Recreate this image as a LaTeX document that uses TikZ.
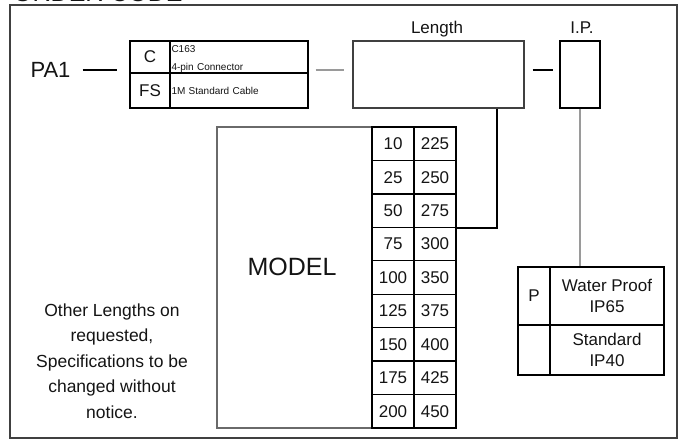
\documentclass[tikz,border=0pt]{standalone}
\usepackage{fontspec}
\setmainfont{Liberation Sans}
\usetikzlibrary{positioning}

\definecolor{framegray}{HTML}{404040}
\definecolor{linegray}{HTML}{9A9A9A}
\definecolor{modelgray}{HTML}{6A6A6A}
\definecolor{ink}{HTML}{141414}

\begin{document}
\begin{tikzpicture}[x=1pt,y=-1pt,
  txt/.style={font=\fontsize{17}{21}\selectfont,text=ink,inner sep=0pt},
  big/.style={txt,font=\fontsize{25}{30}\selectfont},
  box/.style={draw,line width=1.4pt,inner sep=0pt,txt},
  small/.style={font=\fontsize{10}{18}\selectfont,text=ink,inner sep=0pt}]
\useasboundingbox (0,0) rectangle (678,439);
\clip (0,0) rectangle (678,439);
% heading, cut off by the top edge
\node[big,anchor=base west] (title) at (13,1.5) {ORDER CODE};
\draw[framegray,line width=1.6pt] (10,5) rectangle (677,438);

% connector and cable
\node[txt,font=\fontsize{22}{26}\selectfont] (pa1) at (50.5,70) {PA1};
\node[box,minimum width=40pt,minimum height=32pt] (c) at (150,57) {C};
\node[box,small,draw,line width=1.4pt,minimum width=138pt,minimum height=32pt,
  text width=135pt,align=left] (cdesc) at (239,57) {\rule{0pt}{12pt}C163\\4-pin Connector};
\node[box,minimum width=40pt,minimum height=35pt] (fs) at (150,90.5) {FS};
\node[box,small,draw,line width=1.4pt,minimum width=138pt,minimum height=35pt,
  text width=135pt,align=left] (fsdesc) at (239,90.5) {1M Standard Cable};

% length and protection
\node[box,draw=black!75,minimum width=171pt,minimum height=67pt] (len) at (438.5,74.5) {};
\node[txt,anchor=base] (lenlbl) at (437,34) {Length};
\node[box,minimum width=40pt,minimum height=67pt] (ip) at (580,74.5) {};
\node[txt,anchor=base] (iplbl) at (582,34) {I.P.};

\draw[line width=1.4pt,shorten <=12pt,shorten >=12pt] (pa1.east) -- (pa1.east -| c.west);
\draw[linegray,line width=1.6pt,shorten <=7pt,shorten >=8pt] (cdesc.east |- pa1) -- (len.west |- pa1);
\draw[line width=1.4pt,shorten <=8pt,shorten >=6pt] (len.east |- pa1) -- (ip.west |- pa1);

% model and lengths table
\node[box,draw=modelgray,minimum width=155pt,minimum height=301pt] (model) at (294.5,277.5) {};
\node[big] (modeltxt) at (292,267) {MODEL};
\foreach \a/\b [count=\i] in {10/225,25/250,50/275,75/300,100/350,125/375,150/400,175/425,200/450}{
  \node[box,minimum width=42pt,minimum height=33.44pt] (a\i) at (393,{127+(\i-0.5)*33.44}) {\a};
  \node[box,minimum width=42pt,minimum height=33.44pt] (b\i) at (435,{127+(\i-0.5)*33.44}) {\b};
}
\draw[line width=1.4pt] ([xshift=58.5pt]len.south) |- (b3.south east);

\node[txt,font=\fontsize{17.5}{25.5}\selectfont,align=center] (note) at (112,361)
  {Other Lengths on\\requested,\\Specifications to be\\changed without\\notice.};

% protection options
\node[box,minimum width=32pt,minimum height=58pt] (p) at (534,296) {P};
\node[box,minimum width=114pt,minimum height=58pt,align=center] (wp) at (607,296) {Water Proof\\IP65};
\node[box,minimum width=32pt,minimum height=50pt] (pnone) at (534,350) {};
\node[box,minimum width=114pt,minimum height=50pt,align=center] (std) at (607,350) {Standard\\IP40};
\draw[linegray,line width=1.6pt] (ip.south) -- (ip.south |- p.north);
\end{tikzpicture}
\end{document}
